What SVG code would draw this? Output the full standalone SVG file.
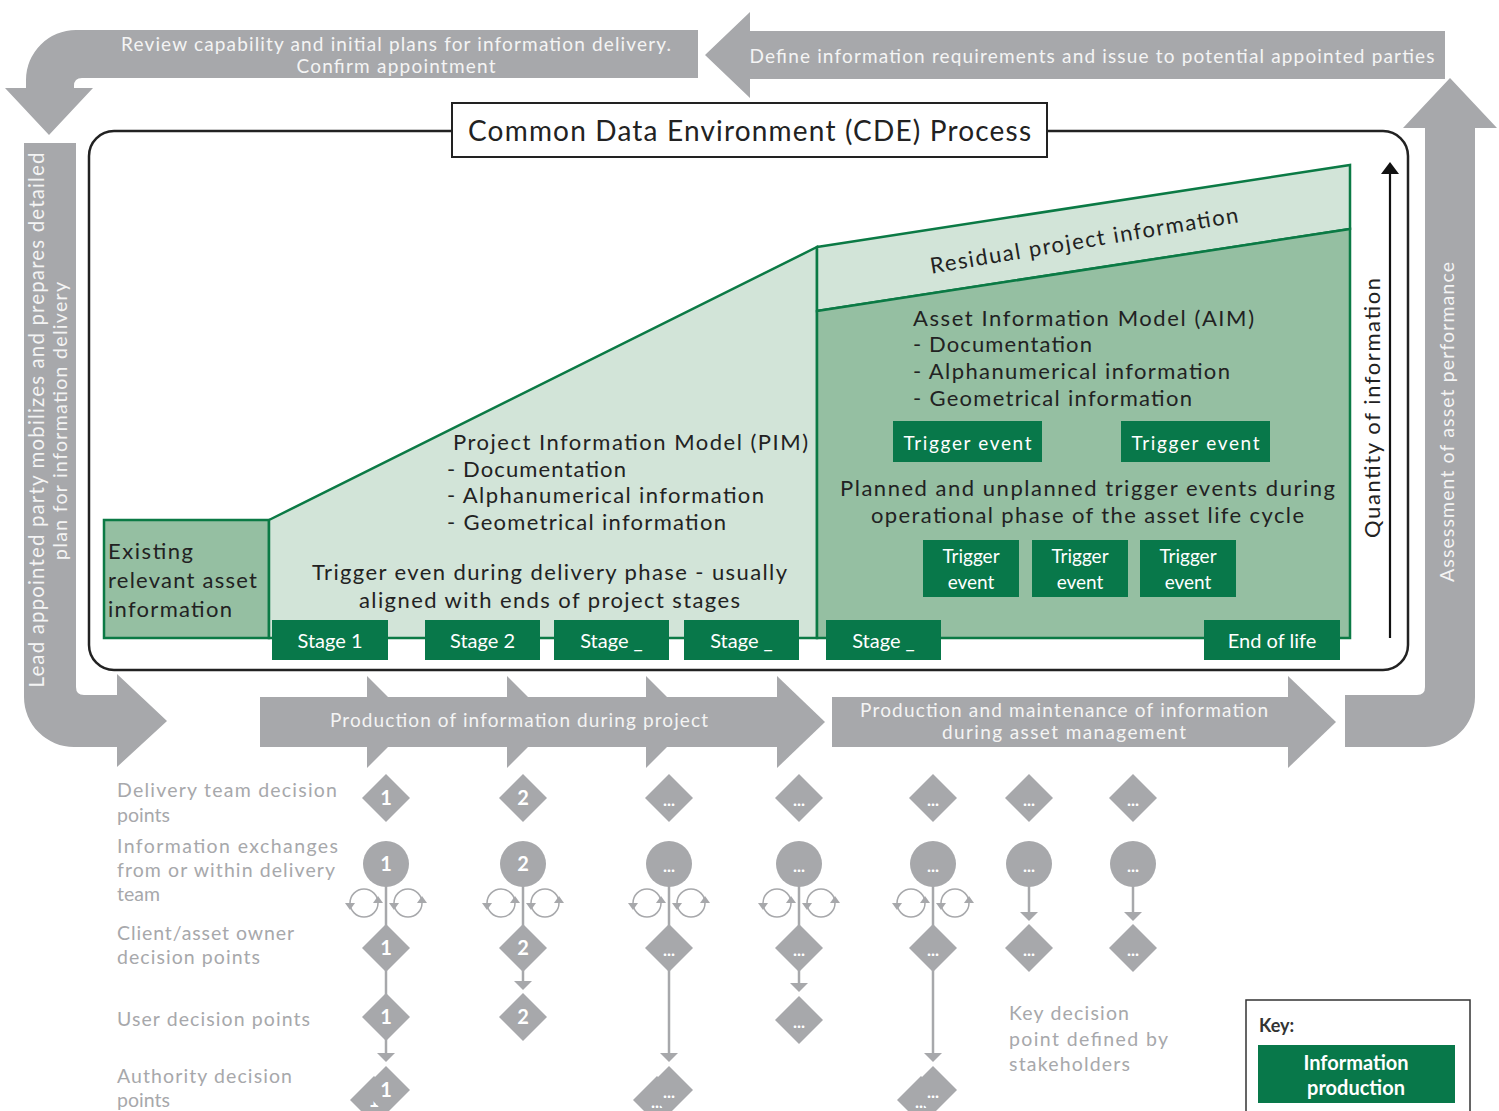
<svg xmlns="http://www.w3.org/2000/svg" width="1499" height="1111" viewBox="0 0 1499 1111">
<style>
text{font-family:"Lato","Liberation Sans",sans-serif}
.g{fill:#a7a8ab}
.wt{fill:#f4f4f4;font-size:19px}
.dk{fill:#222;font-size:22px}
.st{fill:#fff;font-size:20px;text-anchor:middle}
.gb{fill:#08784a}
.lbl{fill:#a7a8ab;font-size:19.5px}
.dl{fill:#fff;font-size:20px;font-weight:bold;text-anchor:middle}
.dd{fill:#fff;font-size:17px;font-weight:bold;text-anchor:middle}
.ln{stroke:#a7a8ab;stroke-width:2.5;fill:none}
.lp{stroke:#a7a8ab;stroke-width:1.5;fill:none}
.gr{stroke:#0b7a45;stroke-width:2.5}
</style>
<defs>
<g id="loop">
<circle class="lp" cx="0" cy="0" r="14"/>
<polygon class="g" points="-19,0 -9,0 -14,7"/>
<polygon class="g" points="9,0 19,0 14,-7"/>
</g>
<g id="loops">
<use href="#loop" x="-22" y="0"/>
<use href="#loop" x="22" y="0"/>
</g>
</defs>

<!-- big gray cycle arrows -->
<g id="arrow-review">
<path class="g" d="M698,30 L76,30 A50,50 0 0 0 26,80 L26,88 L5,88 L49,135 L93,88 L74,88 L74,86 Q74,78 82,78 L698,78 Z"/>
<text class="wt" x="396" y="51" text-anchor="middle" textLength="550">Review capability and initial plans for information delivery.</text>
<text class="wt" x="396" y="73" text-anchor="middle" textLength="199">Confirm appointment</text>
</g>
<g id="arrow-define">
<path class="g" d="M1445,31 L750,31 L750,12 L705,55 L750,98 L750,79 L1445,79 Z"/>
<text class="wt" x="1092" y="63" text-anchor="middle" textLength="685">Define information requirements and issue to potential appointed parties</text>
</g>
<g id="arrow-lead">
<path class="g" d="M24,143 L24,697 A50,50 0 0 0 74,747 L117,747 L117,767 L167,721 L117,674 L117,695 L84,695 Q76,695 76,687 L76,143 Z"/>
<text class="wt" transform="translate(44,420) rotate(-90)" text-anchor="middle" textLength="535" style="font-size:20.5px">Lead appointed party mobilizes and prepares detailed</text>
<text class="wt" transform="translate(67,421) rotate(-90)" text-anchor="middle" textLength="278" style="font-size:19.5px">plan for information delivery</text>
</g>
<g id="arrow-assess">
<path class="g" d="M1345,695 L1417,695 Q1425,695 1425,687 L1425,128 L1403,128 L1450,78 L1497,128 L1475,128 L1475,697 A50,50 0 0 1 1425,747 L1345,747 Z"/>
<text class="wt" transform="translate(1454,422) rotate(-90)" text-anchor="middle" textLength="320" style="font-size:19.5px">Assessment of asset performance</text>
</g>

<!-- CDE frame -->
<g id="cde-frame">
<rect x="89" y="131" width="1319" height="539" rx="25" fill="#fff" stroke="#222" stroke-width="2.5"/>
<rect x="452" y="103" width="595" height="54" fill="#fff" stroke="#222" stroke-width="2"/>
<text x="749.5" y="141" text-anchor="middle" fill="#222" font-size="28" textLength="563">Common Data Environment (CDE) Process</text>
</g>

<!-- chart areas -->
<g id="existing">
<rect class="gr" x="104" y="520" width="165" height="118" fill="#95bfa2"/>
<text class="dk" x="108" y="559" textLength="85">Existing</text>
<text class="dk" x="108" y="588" textLength="149">relevant asset</text>
<text class="dk" x="108" y="617" textLength="124">information</text>
</g>
<g id="pim">
<polygon class="gr" points="269,520 817,247 817,638 269,638" fill="#d2e4d8"/>
<text class="dk" x="453" y="450" textLength="355">Project Information Model (PIM)</text>
<text class="dk" x="447" y="477" textLength="179">- Documentation</text>
<text class="dk" x="447" y="503" textLength="317">- Alphanumerical information</text>
<text class="dk" x="447" y="530" textLength="279">- Geometrical information</text>
<text class="dk" x="549.5" y="580" text-anchor="middle" textLength="475">Trigger even during delivery phase - usually</text>
<text class="dk" x="549.5" y="608" text-anchor="middle" textLength="381">aligned with ends of project stages</text>
</g>
<g id="residual">
<polygon class="gr" points="817,247 1350,165 1350,229 817,311" fill="#d2e4d8"/>
<text class="dk" transform="translate(1084,240) rotate(-9.5)" x="0" y="8" text-anchor="middle" textLength="312">Residual project information</text>
</g>
<g id="aim">
<polygon class="gr" points="817,311 1350,229 1350,638 817,638" fill="#95bfa2"/>
<text class="dk" x="913" y="326" textLength="341">Asset Information Model (AIM)</text>
<text class="dk" x="913" y="352" textLength="179">- Documentation</text>
<text class="dk" x="913" y="379" textLength="317">- Alphanumerical information</text>
<text class="dk" x="913" y="406" textLength="279">- Geometrical information</text>
<text class="dk" x="1087.5" y="496" text-anchor="middle" textLength="495">Planned and unplanned trigger events during</text>
<text class="dk" x="1087.5" y="523" text-anchor="middle" textLength="433">operational phase of the asset life cycle</text>
</g>

<g id="trigger-1"><rect class="gb" x="893" y="421" width="149" height="41"/><text class="st" x="967.5" y="450" style="font-size:19px" textLength="128">Trigger event</text></g>
<g id="trigger-2"><rect class="gb" x="1121" y="421" width="149" height="41"/><text class="st" x="1195.5" y="450" style="font-size:19px" textLength="128">Trigger event</text></g>
<g id="trigger-3"><rect class="gb" x="923" y="540" width="96" height="57"/><text class="st" x="971" y="563" style="font-size:19px">Trigger</text><text class="st" x="971" y="589" style="font-size:19px">event</text></g>
<g id="trigger-4"><rect class="gb" x="1032" y="540" width="96" height="57"/><text class="st" x="1080" y="563" style="font-size:19px">Trigger</text><text class="st" x="1080" y="589" style="font-size:19px">event</text></g>
<g id="trigger-5"><rect class="gb" x="1140" y="540" width="96" height="57"/><text class="st" x="1188" y="563" style="font-size:19px">Trigger</text><text class="st" x="1188" y="589" style="font-size:19px">event</text></g>

<g id="stage-1"><rect class="gb" x="272" y="620" width="116" height="40"/><text class="st" x="330" y="648">Stage 1</text></g>
<g id="stage-2"><rect class="gb" x="425" y="620" width="115" height="40"/><text class="st" x="482.5" y="648">Stage 2</text></g>
<g id="stage-3"><rect class="gb" x="554" y="620" width="115" height="40"/><text class="st" x="611.5" y="648">Stage _</text></g>
<g id="stage-4"><rect class="gb" x="684" y="620" width="115" height="40"/><text class="st" x="741.5" y="648">Stage _</text></g>
<g id="stage-5"><rect class="gb" x="826" y="620" width="115" height="40"/><text class="st" x="883.5" y="648">Stage _</text></g>
<g id="end-of-life"><rect class="gb" x="1204" y="620" width="136" height="40"/><text class="st" x="1272" y="648">End of life</text></g>

<g id="quantity-axis">
<line x1="1390" y1="638" x2="1390" y2="172" stroke="#111" stroke-width="2.2"/>
<polygon points="1381,174 1399,174 1390,162" fill="#111"/>
<text class="dk" transform="translate(1380,408) rotate(-90)" text-anchor="middle" textLength="260">Quantity of information</text>
</g>

<!-- phase arrows -->
<g id="phase-project">
<rect class="g" x="260" y="697" width="520" height="50"/>
<polygon class="g" points="367,676 413,722 367,768"/>
<polygon class="g" points="507,676 553,722 507,768"/>
<polygon class="g" points="646,676 692,722 646,768"/>
<polygon class="g" points="777,676 825,722 777,768"/>
<text class="wt" x="519" y="727" text-anchor="middle" textLength="378">Production of information during project</text>
</g>
<g id="phase-asset">
<rect class="g" x="832" y="697" width="458" height="50"/>
<polygon class="g" points="1288,676 1336,722 1288,768"/>
<text class="wt" x="1064" y="717" text-anchor="middle" textLength="408">Production and maintenance of information</text>
<text class="wt" x="1064" y="739" text-anchor="middle" textLength="244">during asset management</text>
</g>

<!-- row labels -->
<g id="row-labels">
<text class="lbl" x="117" y="797" textLength="220">Delivery team decision</text>
<text class="lbl" x="117" y="822">points</text>
<text class="lbl" x="117" y="853" textLength="221">Information exchanges</text>
<text class="lbl" x="117" y="877" textLength="218">from or within delivery</text>
<text class="lbl" x="117" y="901">team</text>
<text class="lbl" x="117" y="940" textLength="177">Client/asset owner</text>
<text class="lbl" x="117" y="964" textLength="143">decision points</text>
<text class="lbl" x="117" y="1026" textLength="193">User decision points</text>
<text class="lbl" x="117" y="1083" textLength="175">Authority decision</text>
<text class="lbl" x="117" y="1107">points</text>
<text class="lbl" x="1009" y="1020" textLength="120">Key decision</text>
<text class="lbl" x="1009" y="1046" textLength="159">point defined by</text>
<text class="lbl" x="1009" y="1071" textLength="121">stakeholders</text>
</g>

<!-- connectors -->
<g id="connectors">
<line class="ln" x1="386" y1="864" x2="386" y2="1054"/>
<polygon class="g" points="377,1053 395,1053 386,1062"/>
<line class="ln" x1="523" y1="864" x2="523" y2="982"/>
<polygon class="g" points="514,981 532,981 523,990"/>
<line class="ln" x1="669" y1="864" x2="669" y2="1054"/>
<polygon class="g" points="660,1053 678,1053 669,1062"/>
<line class="ln" x1="799" y1="864" x2="799" y2="984"/>
<polygon class="g" points="790,983 808,983 799,992"/>
<line class="ln" x1="933" y1="864" x2="933" y2="1054"/>
<polygon class="g" points="924,1053 942,1053 933,1062"/>
<line class="ln" x1="1029" y1="864" x2="1029" y2="913"/>
<polygon class="g" points="1020,912 1038,912 1029,921"/>
<line class="ln" x1="1133" y1="864" x2="1133" y2="913"/>
<polygon class="g" points="1124,912 1142,912 1133,921"/>
<use href="#loops" x="386" y="903"/>
<use href="#loops" x="523" y="903"/>
<use href="#loops" x="669" y="903"/>
<use href="#loops" x="799" y="903"/>
<use href="#loops" x="933" y="903"/>
</g>

<!-- decision point nodes -->
<g id="col-1">
<g transform="translate(386,798)"><polygon class="g" points="0,-24 24,0 0,24 -24,0"/><text class="dl" y="7">1</text></g>
<g transform="translate(386,864)"><circle class="g" r="23"/><text class="dl" y="7">1</text></g>
<g transform="translate(386,948)"><polygon class="g" points="0,-24 24,0 0,24 -24,0"/><text class="dl" y="7">1</text></g>
<g transform="translate(386,1017)"><polygon class="g" points="0,-24 24,0 0,24 -24,0"/><text class="dl" y="7">1</text></g>
<g transform="translate(374,1100)"><polygon class="g" points="0,-24 24,0 0,24 -24,0"/><text class="dl" y="7">1</text></g>
<g transform="translate(386,1090)"><polygon class="g" points="0,-24 24,0 0,24 -24,0"/><text class="dl" y="7">1</text></g>
</g>
<g id="col-2">
<g transform="translate(523,798)"><polygon class="g" points="0,-24 24,0 0,24 -24,0"/><text class="dl" y="7">2</text></g>
<g transform="translate(523,864)"><circle class="g" r="23"/><text class="dl" y="7">2</text></g>
<g transform="translate(523,948)"><polygon class="g" points="0,-24 24,0 0,24 -24,0"/><text class="dl" y="7">2</text></g>
<g transform="translate(523,1017)"><polygon class="g" points="0,-24 24,0 0,24 -24,0"/><text class="dl" y="7">2</text></g>
</g>
<g id="col-3">
<g transform="translate(669,798)"><polygon class="g" points="0,-24 24,0 0,24 -24,0"/><text class="dd" y="8">...</text></g>
<g transform="translate(669,864)"><circle class="g" r="23"/><text class="dd" y="8">...</text></g>
<g transform="translate(669,948)"><polygon class="g" points="0,-24 24,0 0,24 -24,0"/><text class="dd" y="8">...</text></g>
<g transform="translate(657,1100)"><polygon class="g" points="0,-24 24,0 0,24 -24,0"/><text class="dd" y="8">...</text></g>
<g transform="translate(669,1090)"><polygon class="g" points="0,-24 24,0 0,24 -24,0"/><text class="dd" y="8">...</text></g>
</g>
<g id="col-4">
<g transform="translate(799,798)"><polygon class="g" points="0,-24 24,0 0,24 -24,0"/><text class="dd" y="8">...</text></g>
<g transform="translate(799,864)"><circle class="g" r="23"/><text class="dd" y="8">...</text></g>
<g transform="translate(799,948)"><polygon class="g" points="0,-24 24,0 0,24 -24,0"/><text class="dd" y="8">...</text></g>
<g transform="translate(799,1020)"><polygon class="g" points="0,-24 24,0 0,24 -24,0"/><text class="dd" y="8">...</text></g>
</g>
<g id="col-5">
<g transform="translate(933,798)"><polygon class="g" points="0,-24 24,0 0,24 -24,0"/><text class="dd" y="8">...</text></g>
<g transform="translate(933,864)"><circle class="g" r="23"/><text class="dd" y="8">...</text></g>
<g transform="translate(933,948)"><polygon class="g" points="0,-24 24,0 0,24 -24,0"/><text class="dd" y="8">...</text></g>
<g transform="translate(921,1100)"><polygon class="g" points="0,-24 24,0 0,24 -24,0"/><text class="dd" y="8">...</text></g>
<g transform="translate(933,1090)"><polygon class="g" points="0,-24 24,0 0,24 -24,0"/><text class="dd" y="8">...</text></g>
</g>
<g id="col-6">
<g transform="translate(1029,798)"><polygon class="g" points="0,-24 24,0 0,24 -24,0"/><text class="dd" y="8">...</text></g>
<g transform="translate(1029,864)"><circle class="g" r="23"/><text class="dd" y="8">...</text></g>
<g transform="translate(1029,948)"><polygon class="g" points="0,-24 24,0 0,24 -24,0"/><text class="dd" y="8">...</text></g>
</g>
<g id="col-7">
<g transform="translate(1133,798)"><polygon class="g" points="0,-24 24,0 0,24 -24,0"/><text class="dd" y="8">...</text></g>
<g transform="translate(1133,864)"><circle class="g" r="23"/><text class="dd" y="8">...</text></g>
<g transform="translate(1133,948)"><polygon class="g" points="0,-24 24,0 0,24 -24,0"/><text class="dd" y="8">...</text></g>
</g>

<g id="key">
<rect x="1246" y="1000" width="224" height="120" fill="#fff" stroke="#333" stroke-width="1.5"/>
<text x="1259" y="1032" fill="#333" font-size="18" font-weight="bold">Key:</text>
<rect class="gb" x="1258" y="1045" width="197" height="58"/>
<text x="1356" y="1070" fill="#fff" font-size="20" font-weight="bold" text-anchor="middle">Information</text>
<text x="1356" y="1095" fill="#fff" font-size="20" font-weight="bold" text-anchor="middle">production</text>
</g>
</svg>
